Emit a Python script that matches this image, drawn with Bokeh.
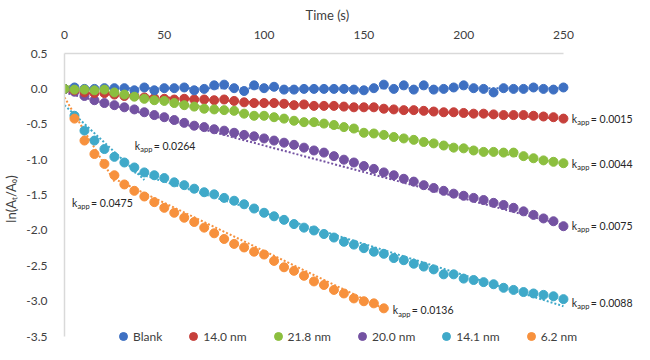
from bokeh.plotting import figure
from bokeh.models import (Range1d, FixedTicker, PrintfTickFormatter, Legend,
                          LegendItem, Label)
from bokeh.embed import file_html
from bokeh.resources import INLINE

# ---------------- data ----------------
time_s = [0, 5, 10, 15, 20, 25, 30, 35, 40, 45, 50, 55, 60, 65, 70, 75, 80, 85,
          90, 95, 100, 105, 110, 115, 120, 125, 130, 135, 140, 145, 150, 155,
          160, 165, 170, 175, 180, 185, 190, 195, 200, 205, 210, 215, 220, 225,
          230, 235, 240, 245, 250]

blank = [0.00, 0.02, 0.00, 0.00, 0.01, 0.01, 0.01, -0.02, 0.02, -0.02, 0.01,
         0.01, 0.02, -0.02, 0.00, 0.05, 0.06, 0.01, -0.03, 0.05, 0.01, 0.03,
         -0.01, -0.01, 0.00, 0.00, 0.00, 0.00, 0.00, -0.01, -0.02, 0.01, 0.06,
         0.00, 0.05, -0.01, 0.05, -0.01, 0.00, 0.02, 0.05, 0.01, 0.00, -0.05,
         0.01, 0.00, 0.00, 0.02, 0.00, -0.01, 0.02]

nm_14_0 = [0.00, -0.02, -0.05, -0.06, -0.06, -0.08, -0.10, -0.10, -0.12, -0.13,
           -0.14, -0.15, -0.14, -0.15, -0.15, -0.16, -0.15, -0.17, -0.19,
           -0.20, -0.20, -0.20, -0.21, -0.23, -0.22, -0.24, -0.24, -0.24,
           -0.25, -0.26, -0.26, -0.26, -0.28, -0.29, -0.30, -0.30, -0.31,
           -0.32, -0.33, -0.33, -0.34, -0.35, -0.35, -0.36, -0.37, -0.37,
           -0.37, -0.38, -0.39, -0.40, -0.42]

nm_21_8 = [0.00, -0.01, -0.01, -0.02, -0.01, -0.05, -0.08, -0.11, -0.14, -0.16,
           -0.17, -0.20, -0.23, -0.25, -0.28, -0.29, -0.30, -0.31, -0.35,
           -0.38, -0.38, -0.40, -0.42, -0.45, -0.47, -0.47, -0.49, -0.51,
           -0.54, -0.56, -0.62, -0.63, -0.65, -0.68, -0.70, -0.72, -0.75,
           -0.77, -0.80, -0.83, -0.84, -0.87, -0.89, -0.89, -0.90, -0.90,
           -0.95, -0.98, -1.01, -1.03, -1.05]

nm_20_0 = [0.00, -0.04, -0.10, -0.16, -0.20, -0.23, -0.26, -0.29, -0.33, -0.37,
           -0.40, -0.44, -0.48, -0.52, -0.54, -0.57, -0.59, -0.62, -0.65,
           -0.67, -0.70, -0.73, -0.76, -0.79, -0.83, -0.87, -0.90, -0.95,
           -1.00, -1.04, -1.09, -1.13, -1.18, -1.22, -1.27, -1.31, -1.36,
           -1.40, -1.44, -1.48, -1.51, -1.54, -1.57, -1.61, -1.64, -1.68,
           -1.73, -1.78, -1.83, -1.87, -1.94]

nm_14_1 = [0.00, -0.38, -0.59, -0.73, -0.85, -0.96, -1.04, -1.11, -1.18, -1.22,
           -1.26, -1.32, -1.36, -1.41, -1.46, -1.49, -1.54, -1.58, -1.63,
           -1.69, -1.75, -1.80, -1.85, -1.91, -1.96, -2.00, -2.05, -2.10,
           -2.16, -2.20, -2.25, -2.30, -2.33, -2.39, -2.42, -2.47, -2.51,
           -2.55, -2.62, -2.62, -2.68, -2.70, -2.73, -2.76, -2.81, -2.84,
           -2.87, -2.89, -2.91, -2.93, -2.97]

time_6_2 = time_s[:33]
nm_6_2 = [0.00, -0.42, -0.73, -0.92, -1.06, -1.22, -1.35, -1.44, -1.52, -1.60,
          -1.68, -1.75, -1.82, -1.88, -1.96, -2.04, -2.12, -2.19, -2.24, -2.30,
          -2.34, -2.43, -2.52, -2.57, -2.64, -2.72, -2.77, -2.84, -2.89, -2.96,
          -3.00, -3.03, -3.10]

series_names = ["Blank", "14.0 nm", "21.8 nm", "20.0 nm", "14.1 nm", "6.2 nm"]
series_colors = ["#3e70c2", "#c6403b", "#8cbf3f", "#7452a2", "#3fa9c9", "#f7913d"]

# linear fits  ln(At/A0) = -kapp * t + b  over [t_start, t_end]
fit_series = [0, 1, 2, 3, 4, 4, 5, 5]
fit_kapp = [0.0, 0.0015, 0.0044, 0.0075, 0.0264, 0.0088, 0.0475, 0.0136]
fit_b = [0.01, -0.045, 0.05, -0.05, -0.23, -0.87, -0.12, -0.93]
fit_t_start = [0, 0, 0, 0, 0, 35, 0, 25]
fit_t_end = [250, 250, 250, 250, 40, 250, 25, 160]

# kapp labels
kapp_text = ["0.0015", "0.0044", "0.0075", "0.0088", "0.0136", "0.0264", "0.0475"]
kapp_x = [254.2, 254.2, 254.2, 254.2, 164.5, 35.2, 3.8]
kapp_y = [-0.42, -1.06, -1.93, -3.02, -3.13, -0.80, -1.61]

y_ticks = [-3.5, -3.0, -2.5, -2.0, -1.5, -1.0, -0.5, 0.0, 0.5]
x_ticks = [0, 50, 100, 150, 200, 250]

# ---------------- figure ----------------
FONT = "Lato"
# frame: 578 px wide for 0..285.6 (250 at 506 px); 297 px tall for -3.611..0.5
p = figure(width=634, height=344, x_range=Range1d(0, 285.6),
           y_range=Range1d(-3.611, 0.5), output_backend="svg",
           toolbar_location=None, x_axis_location="above",
           min_border_left=56, min_border_right=0, min_border_top=47,
           min_border_bottom=0)
p.outline_line_color = None
p.xgrid.visible = False
p.ygrid.visible = False
p.background_fill_color = "white"
p.border_fill_color = "white"

for ax in (p.xaxis[0], p.yaxis[0]):
    ax.axis_line_color = "#d9d9d9"
    ax.axis_line_width = 1.5
    ax.major_tick_line_color = None
    ax.minor_tick_line_color = None
    ax.major_label_text_font = FONT
    ax.major_label_text_font_size = "12px"
    ax.major_label_text_color = "#404040"
    ax.axis_label_text_font = FONT
    ax.axis_label_text_font_size = "13px"
    ax.axis_label_text_font_style = "normal"
    ax.axis_label_text_color = "#404040"

p.xaxis.ticker = FixedTicker(ticks=x_ticks)
p.xaxis.bounds = (0, 250)
p.xaxis.major_label_standoff = 9

p.yaxis.ticker = FixedTicker(ticks=y_ticks)
p.yaxis.bounds = (-3.5, 0.5)
p.yaxis.formatter = PrintfTickFormatter(format="%.1f")
p.yaxis.axis_label = "ln(Aₜ/A₀)"
p.yaxis.major_label_standoff = 11
p.yaxis.axis_label_standoff = 4

p.title.text = "Time (s)"
p.title.align = "left"
p.title.offset = 241
p.title.text_font = FONT
p.title.text_font_size = "13px"
p.title.text_font_style = "normal"
p.title.text_color = "#404040"
p.title.standoff = 9

# fit lines
for s, k, b, t0, t1 in zip(fit_series, fit_kapp, fit_b, fit_t_start, fit_t_end):
    p.line([t0, t1], [b - k * t0, b - k * t1], line_color=series_colors[s],
           line_width=2, line_dash="2 2")

series_x = [time_s, time_s, time_s, time_s, time_s, time_6_2]
series_y = [blank, nm_14_0, nm_21_8, nm_20_0, nm_14_1, nm_6_2]
draw_order = [4, 5, 3, 1, 0, 2]
renderers = {}
for i in draw_order:
    r = p.scatter(series_x[i], series_y[i], size=9, color=series_colors[i],
                  line_color=series_colors[i])
    renderers[i] = r

legend = Legend(items=[LegendItem(label=series_names[i], renderers=[renderers[i]])
                       for i in range(6)],
                orientation="horizontal", location=(49, -2),
                glyph_width=20, glyph_height=20, label_standoff=-3,
                spacing=21, padding=0, margin=0,
                border_line_color=None, background_fill_alpha=0,
                label_text_font=FONT, label_text_font_size="12px",
                label_text_color="#404040")
p.add_layout(legend, "center")

for txt, lx, ly in zip(kapp_text, kapp_x, kapp_y):
    p.add_layout(Label(x=lx, y=ly, text="k", text_font=FONT,
                       text_font_size="10.5px", text_baseline="middle",
                       text_color="#262626"))
    p.add_layout(Label(x=lx, y=ly, x_offset=5.5, y_offset=-4, text="app",
                       text_font=FONT, text_font_size="7.5px",
                       text_baseline="middle", text_color="#262626"))
    p.add_layout(Label(x=lx, y=ly, x_offset=19, text="= " + txt,
                       text_font=FONT, text_font_size="10.5px",
                       text_baseline="middle", text_color="#262626"))

open("out.html", "w").write(file_html(p, INLINE))
